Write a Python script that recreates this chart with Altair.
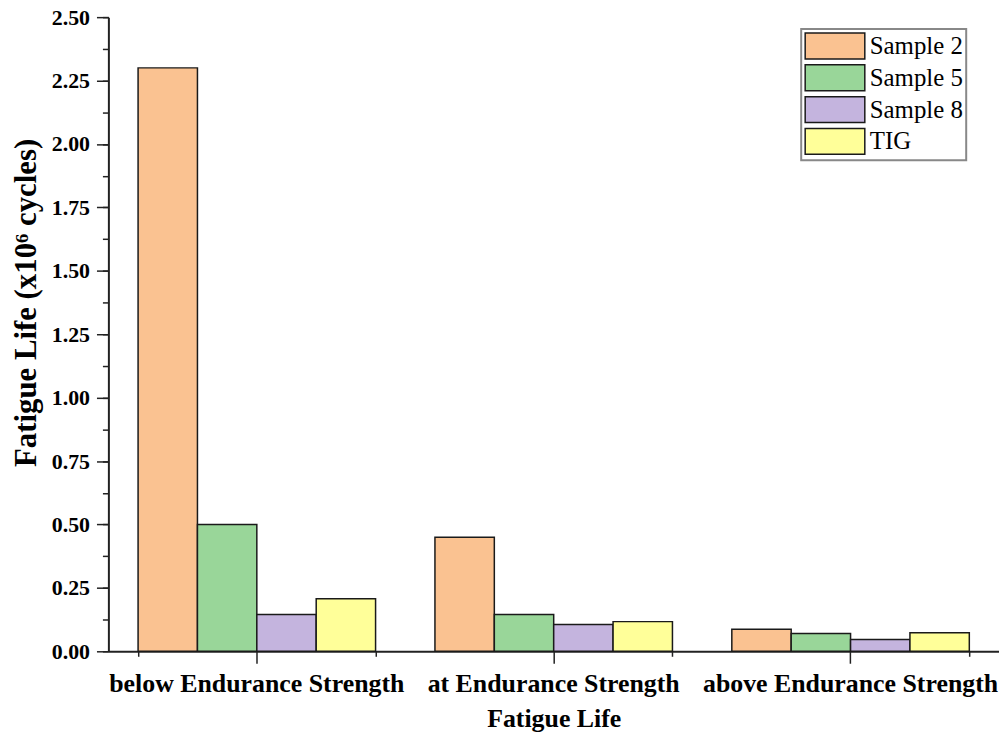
import altair as alt
import pandas as pd

categories = ["below Endurance Strength", "at Endurance Strength", "above Endurance Strength"]
series = ["Sample 2", "Sample 5", "Sample 8", "TIG"]
sample2 = [2.30, 0.45, 0.087]
sample5 = [0.50, 0.145, 0.07]
sample8 = [0.145, 0.106, 0.047]
tig = [0.207, 0.117, 0.073]
colors = ["#FAC291", "#99D699", "#C4B4DE", "#FFFF99"]
y_major = [0, 0.25, 0.5, 0.75, 1.0, 1.25, 1.5, 1.75, 2.0, 2.25, 2.5]
y_minor = [i * 0.125 for i in range(21)]

rows = []
for s, vals in zip(series, [sample2, sample5, sample8, tig]):
    for c, v in zip(categories, vals):
        rows.append({"category": c, "series": s, "value": v})
df = pd.DataFrame(rows)

FONT = "Liberation Serif"

xscale = alt.Scale(domain=categories, paddingInner=0.2, paddingOuter=0.1)
yscale = alt.Scale(domain=[0, 2.5], nice=False, zero=True)

legend_path = "M-1,-1H3.615V1H-1Z"

bars = alt.Chart(df).mark_bar(stroke="#1a1a1a", strokeWidth=1.5).encode(
    x=alt.X("category:N", sort=categories, scale=xscale,
            axis=alt.Axis(title="Fatigue Life", orient="bottom", labelAngle=0,
                          tickSize=12, tickWidth=1.5, domainWidth=2, domainColor="#222",
                          tickColor="#222", labelFont=FONT, labelFontWeight="bold",
                          labelFontSize=26, labelColor="black", labelPadding=7,
                          labelLimit=400,
                          titleFont=FONT, titleFontWeight="bold", titleFontSize=26,
                          titleColor="black", titlePadding=10, labelOverlap=False)),
    xOffset=alt.XOffset("series:N", sort=series, scale=alt.Scale(paddingInner=0, paddingOuter=0)),
    y=alt.Y("value:Q", scale=yscale,
            axis=alt.Axis(title="Fatigue Life (x10⁶ cycles)", orient="left", values=y_major,
                          format=".2f", tickSize=12, tickWidth=1.5, domainWidth=2,
                          domainColor="#222", tickColor="#222", grid=False,
                          labelFont=FONT, labelFontWeight="bold", labelFontSize=22,
                          labelColor="black", labelPadding=7,
                          titleFont=FONT, titleFontWeight="bold", titleFontSize=31,
                          titleColor="black", titleX=-73, titleY=287,
                          titleBaseline="alphabetic", titleAngle=270, titleAlign="center")),
    color=alt.Color("series:N", sort=series, scale=alt.Scale(domain=series, range=colors),
                    legend=alt.Legend(title=None, orient="none", legendX=697, legendY=12,
                                      symbolType=legend_path, symbolSize=676,
                                      symbolStrokeColor="#1a1a1a", symbolStrokeWidth=1.5,
                                      symbolOpacity=1, labelFont=FONT, labelFontSize=25,
                                      labelColor="black", labelOffset=38, rowPadding=0,
                                      padding=3, strokeColor="#888888", fillColor="white",
                                      labelLimit=200)),
)

minor = alt.Chart(df).mark_bar(opacity=0).encode(
    x=alt.X("category:N", sort=categories, scale=xscale,
            axis=alt.Axis(title=None, orient="bottom", labels=False, tickBand="extent",
                          tickSize=5, tickWidth=1.5, tickColor="#222", domain=False)),
    xOffset=alt.XOffset("series:N", sort=series),
    y=alt.Y("value:Q", scale=yscale,
            axis=alt.Axis(title=None, orient="left", values=y_minor, labels=False,
                          tickSize=6, tickWidth=1.5, tickColor="#222", domain=False,
                          grid=False)),
)

chart = alt.layer(bars, minor).resolve_axis(x="independent", y="independent").properties(
    width=896, height=638,
    autosize=alt.AutoSizeParams(type="none"),
    padding={"left": 101, "top": 7, "right": 0, "bottom": 82},
).configure_view(stroke=None).configure_legend(strokeWidth=2)

chart.save("out.html", embed_options={"renderer": "svg", "actions": False})
